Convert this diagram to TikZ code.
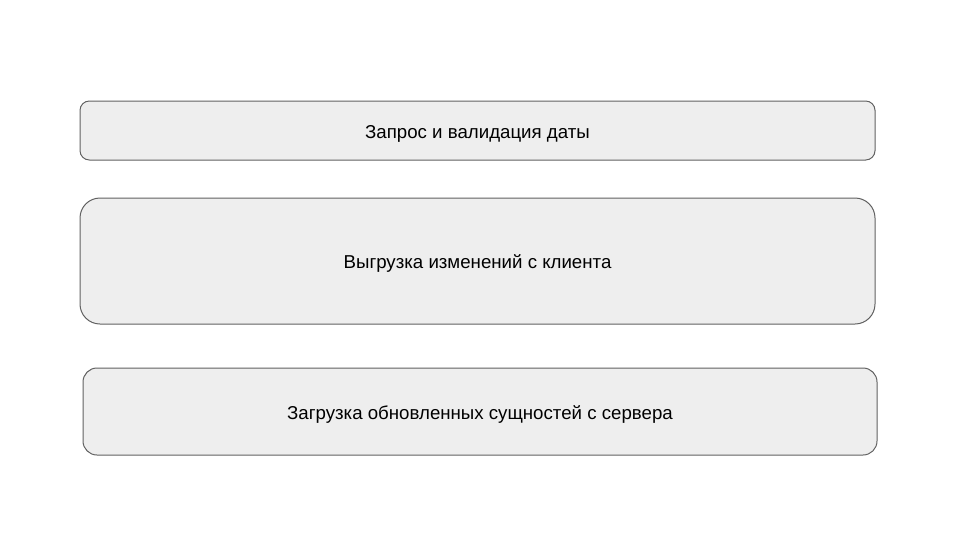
\documentclass[tikz,border=0pt]{standalone}
\usepackage{fontspec}
\setmainfont{Liberation Sans}
\definecolor{boxfill}{HTML}{EEEEEE}
\definecolor{boxline}{HTML}{616161}
\begin{document}
\begin{tikzpicture}[x=0.75pt,y=-0.75pt,
  stage/.style={draw=boxline,fill=boxfill,line width=0.75pt,rectangle,inner sep=0pt,outer sep=0pt,text height=11.5pt,text depth=0pt,font=\fontsize{14pt}{16pt}\selectfont,text=black}]
\useasboundingbox (0,0) rectangle (960,540);
\fill[white] (0,0) rectangle (960,540);
\node[stage,minimum width=795*0.75pt,minimum height=59*0.75pt,rounded corners=7pt] (n1) at (477.5,130.5) {Запрос и валидация даты};
\node[stage,minimum width=795*0.75pt,minimum height=126*0.75pt,rounded corners=15pt] (n2) at (477.5,261) {Выгрузка изменений с клиента};
\node[stage,minimum width=794*0.75pt,minimum height=87*0.75pt,rounded corners=10.5pt] (n3) at (480,411.5) {Загрузка обновленных сущностей с сервера};
\end{tikzpicture}
\end{document}
